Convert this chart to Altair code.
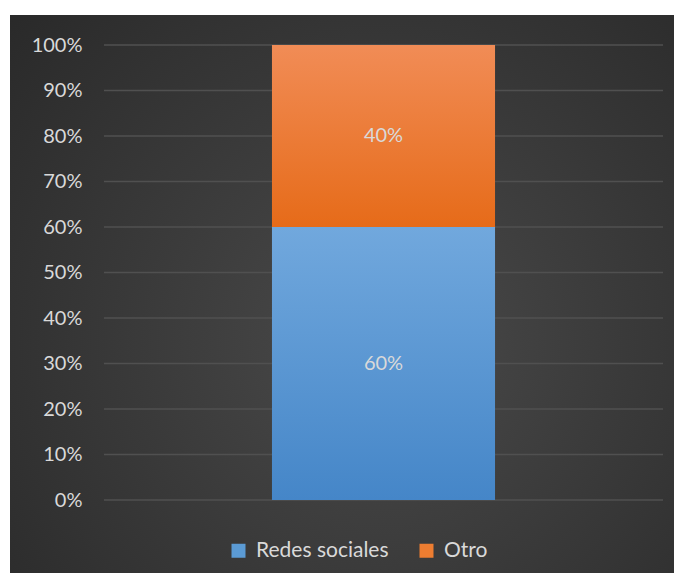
import altair as alt
import pandas as pd

categories = ["Total"]
series = ["Redes sociales", "Otro"]
values = [0.60, 0.40]
series_order = [0, 1]
y_ticks = [0.0, 0.1, 0.2, 0.3, 0.4, 0.5, 0.6, 0.7, 0.8, 0.9, 1.0]

W, H = 559, 455
FONT = "Lato"
TXT = "#d9d9d9"

df = pd.DataFrame({
    "cat": categories * len(series),
    "series": series,
    "value": values,
    "order": series_order,
})
ticks_df = pd.DataFrame({"t": y_ticks})

yscale = alt.Scale(domain=[0, 1], nice=False, zero=True)
xscale = alt.Scale(paddingInner=0, paddingOuter=0.753)

# background panel (decoration)
bg_grad = alt.Gradient(
    gradient="radial",
    x1=0.56, y1=0.57, r1=0.0,
    x2=0.56, y2=0.57, r2=0.8,
    stops=[alt.GradientStop(offset=0, color="#4a4a4a"),
           alt.GradientStop(offset=1, color="#272727")],
)
bg = alt.Chart(pd.DataFrame({"a": [0]})).mark_rect(fill=bg_grad).encode(
    x=alt.value(-94), x2=alt.value(W + 11),
    y=alt.value(-30), y2=alt.value(H + 73),
)

grid = alt.Chart(ticks_df).mark_rule(color="#505050", strokeWidth=1.5).encode(
    y=alt.Y("t:Q", scale=yscale,
            axis=alt.Axis(values=y_ticks, format=".0%", title=None, grid=False,
                          domain=False, ticks=False, labelPadding=22,
                          labelFont=FONT, labelFontSize=20, labelColor=TXT,
                          zindex=1)),
)

stacked = alt.Chart(df).transform_stack(
    stack="value", groupby=["cat"], as_=["y0", "y1"],
    sort=[alt.SortField("order", order="ascending")],
).transform_calculate(mid="(datum.y0 + datum.y1) / 2")

blue_grad = alt.Gradient(
    gradient="linear", x1=0, y1=0, x2=0, y2=1,
    stops=[alt.GradientStop(offset=0, color="#71a8dd"),
           alt.GradientStop(offset=1, color="#4586c8")],
)
orange_grad = alt.Gradient(
    gradient="linear", x1=0, y1=0, x2=0, y2=1,
    stops=[alt.GradientStop(offset=0, color="#f18c56"),
           alt.GradientStop(offset=1, color="#e66b19")],
)

def bar_layer(name, grad):
    return stacked.transform_filter(alt.datum.series == name).mark_bar(fill=grad).encode(
        x=alt.X("cat:N", scale=xscale, axis=None),
        y=alt.Y("y0:Q", scale=yscale),
        y2="y1:Q",
    )

bars_blue = bar_layer("Redes sociales", blue_grad)
bars_orange = bar_layer("Otro", orange_grad)

labels = stacked.mark_text(font=FONT, fontSize=20, color=TXT).encode(
    x=alt.X("cat:N", scale=xscale, axis=None),
    y=alt.Y("mid:Q", scale=yscale),
    text=alt.Text("value:Q", format=".0%"),
)

legend_layer = alt.Chart(df).mark_square(opacity=0, size=0).encode(
    color=alt.Color(
        "series:N",
        scale=alt.Scale(domain=series, range=["#5b9bd5", "#ed7d31"]),
        legend=alt.Legend(
            title=None, orient="none", direction="horizontal",
            legendX=124, legendY=495,
            symbolType="square", symbolSize=196, symbolOpacity=1,
            symbolStrokeWidth=0,
            labelFont=FONT, labelFontSize=21, labelColor=TXT,
            labelOffset=7, columnPadding=27,
        ),
    ),
)

chart = alt.layer(bg, grid, bars_blue, bars_orange, labels, legend_layer).properties(
    width=W, height=H,
    padding={"left": 2, "top": 7, "right": 0, "bottom": 0},
).configure_view(stroke=None)

chart.save("out.html", embed_options={"renderer": "svg", "actions": False})
